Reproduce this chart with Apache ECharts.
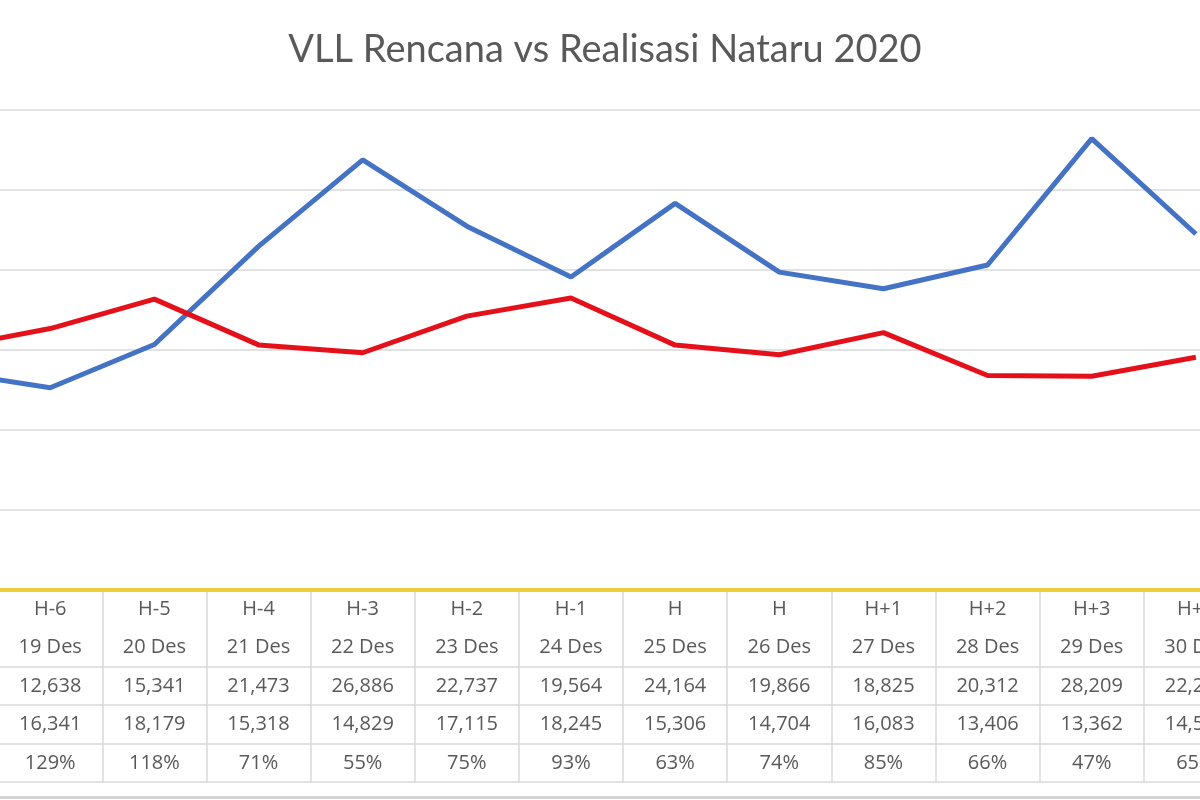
<!DOCTYPE html>
<html>
<head>
<meta charset="utf-8">
<script src="https://cdn.jsdelivr.net/npm/echarts@6/dist/echarts.min.js"></script>
<style>
html,body{margin:0;padding:0;background:#fff;overflow:hidden;width:1200px;height:800px;position:relative;}
#c{position:absolute;left:-106px;top:0;width:1354px;height:800px;}
</style>
</head>
<body>
<div id="c"></div>
<script>
// ---- data ----
var hLabels = ['H-7','H-6','H-5','H-4','H-3','H-2','H-1','H','H','H+1','H+2','H+3','H+4'];
var dates   = ['18 Des','19 Des','20 Des','21 Des','22 Des','23 Des','24 Des','25 Des','26 Des','27 Des','28 Des','29 Des','30 Des'];
var rencana   = [13650,12638,15341,21473,26886,22737,19564,24164,19866,18825,20312,28209,22250];
var realisasi = [15100,16341,18179,15318,14829,17115,18245,15306,14704,16083,13406,13362,14550];
var persen    = ['111%','129%','118%','71%','55%','75%','93%','63%','74%','85%','66%','47%','65%'];
var yTicks = {min:0, max:30000, interval:5000};

var FONT = 'Lato, "Open Sans", sans-serif';
var TFONT = '"Open Sans", Lato, sans-serif';
var TXT = '#595959';
var OFFSET = 106; // chart canvas starts 106px left of the visible window

function fmt(v){ return v.toLocaleString('en-US'); }

var rows = [hLabels, dates, rencana.map(fmt), realisasi.map(fmt), persen];
var cells = [];
for (var i = 0; i < hLabels.length; i++) {
  for (var r = 0; r < rows.length; r++) {
    cells.push([i, r + 0.5, rows[r][i]]);
  }
}

var gridWidth = 104.15 * hLabels.length;

var chart = echarts.init(document.getElementById('c'), null, {renderer:'canvas'});
chart.setOption({
  animation: false,
  backgroundColor: '#fff',
  title: {
    text: 'VLL Rencana vs Realisasi Nataru 2020',
    left: 600 + OFFSET, top: 26, textAlign: 'center',
    textStyle: {fontFamily: FONT, fontSize: 38, fontWeight: 'normal', color: TXT}
  },
  grid: [
    {left: 0, width: gridWidth, top: 110, height: 480},
    {left: 0, width: gridWidth, top: 590, height: 192}
  ],
  xAxis: [
    {type:'category', gridIndex:0, data: hLabels, boundaryGap:true,
     axisLine:{show:true, lineStyle:{color:'#F2CC3C', width:4}},
     axisTick:{show:false}, axisLabel:{show:false}, splitLine:{show:false}},
    {type:'category', gridIndex:1, data: hLabels, boundaryGap:true,
     axisLine:{show:false}, axisTick:{show:false}, axisLabel:{show:false},
     splitLine:{show:true, lineStyle:{color:'#D9D9D9', width:1.5}}}
  ],
  yAxis: [
    {type:'value', gridIndex:0, min:yTicks.min, max:yTicks.max, interval:yTicks.interval,
     axisLine:{show:false}, axisTick:{show:false}, axisLabel:{show:false},
     splitLine:{show:true, lineStyle:{color:'#D9D9D9', width:1.5}}},
    {type:'value', gridIndex:1, min:0, max:5, interval:1, inverse:true,
     axisLine:{show:false}, axisTick:{show:false}, axisLabel:{show:false},
     splitLine:{show:true, lineStyle:{color:['rgba(0,0,0,0)','rgba(0,0,0,0)','#D9D9D9','#D9D9D9','#D9D9D9','#D9D9D9'], width:1.5}}}
  ],
  series: [
    {name:'Rencana', type:'line', xAxisIndex:0, yAxisIndex:0, data: rencana,
     symbol:'none', lineStyle:{color:'#4472C4', width:5}, itemStyle:{color:'#4472C4'}},
    {name:'Realisasi', type:'line', xAxisIndex:0, yAxisIndex:0, data: realisasi,
     symbol:'none', lineStyle:{color:'#E5111A', width:5}, itemStyle:{color:'#E5111A'}},
    {name:'Tabel', type:'custom', xAxisIndex:1, yAxisIndex:1, data: cells,
     encode:{x:0, y:1},
     renderItem: function(params, api){
       var p = api.coord([api.value(0), api.value(1)]);
       return {type:'text', x:p[0], y:p[1],
         style:{text: cells[params.dataIndex][2], textAlign:'center', textVerticalAlign:'middle',
                font: '20px ' + TFONT, fill: TXT}};
     }}
  ],
  graphic: [
    {type:'rect', shape:{x:0, y:796, width:1354, height:3}, style:{fill:'#D4D4D4'}, silent:true}
  ]
});
</script>
</body>
</html>
